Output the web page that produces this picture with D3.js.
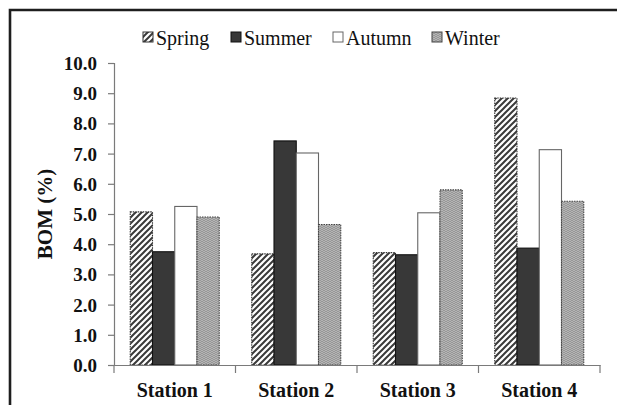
<!DOCTYPE html>
<html>
<head>
<meta charset="utf-8">
<script src="https://cdn.jsdelivr.net/npm/d3@7"></script>
<style>
  html, body { margin: 0; padding: 0; background: #fff; }
  svg { display: block; }
  svg text { font-family: "Liberation Serif", "DejaVu Serif", serif; fill: #111; }
</style>
</head>
<body>
<svg id="chart" width="617" height="405"></svg>
<script>
// Bulk organic matter by station and season
const stations = ["Station 1", "Station 2", "Station 3", "Station 4"];
const seasons = ["Spring", "Summer", "Autumn", "Winter"];
const spring = [5.07, 3.68, 3.72, 8.84];
const summer = [3.75, 7.42, 3.65, 3.87];
const autumn = [5.25, 7.02, 5.04, 7.13];
const winter = [4.9, 4.65, 5.8, 5.42];
const yTicks = [0, 1, 2, 3, 4, 5, 6, 7, 8, 9, 10];

const seriesValues = [spring, summer, autumn, winter];

const svg = d3.select("#chart");
const margin = { left: 114, right: 17, top: 63, bottom: 40 };
const W = 617, H = 405;
const x0 = margin.left, x1 = W - margin.right;
const yBase = H - margin.bottom;

// Fill patterns
const defs = svg.append("defs");
const pSpring = defs.append("pattern").attr("id", "pSpring")
  .attr("patternUnits", "userSpaceOnUse").attr("width", 6).attr("height", 6);
pSpring.append("rect").attr("width", 6).attr("height", 6).attr("fill", "#fff");
pSpring.append("path").attr("d", "M-1,7 L7,-1 M-4,4 L4,-4 M2,10 L10,2")
  .attr("stroke", "#3a3a3a").attr("stroke-width", 2);

const pWinter = defs.append("pattern").attr("id", "pWinter")
  .attr("patternUnits", "userSpaceOnUse").attr("width", 4).attr("height", 4);
pWinter.append("rect").attr("width", 4).attr("height", 4).attr("fill", "#c4c4c4");
pWinter.append("path").attr("d", "M0,0.5 L2,1.5 L4,0.5 M0,2.5 L2,3.5 L4,2.5")
  .attr("stroke", "#808080").attr("stroke-width", 0.9).attr("fill", "none");

const styles = [
  { fill: "url(#pSpring)", stroke: "#333", dash: "1.5,1" },
  { fill: "#383838", stroke: "#111", dash: null },
  { fill: "#ffffff", stroke: "#666", dash: null },
  { fill: "url(#pWinter)", stroke: "#444", dash: "1.5,1" }
];

// Scales
const x = d3.scaleBand().domain(stations).range([x0, x1]).paddingInner(0).paddingOuter(0);
const inner = d3.scaleBand().domain(seasons).range([0, x.bandwidth()]).paddingOuter(0.73).paddingInner(0);
const y = d3.scaleLinear().domain([0, 10]).range([yBase, 63]);

// Outer frame
svg.append("path").attr("d", `M10,${H + 2} L10,10 L${W + 2},10`)
  .attr("fill", "none").attr("stroke", "#1e1e1e").attr("stroke-width", 2.6);

// Bars
seasons.forEach((s, si) => {
  svg.append("g").selectAll("rect")
    .data(stations.map((st, i) => ({ st, v: seriesValues[si][i] })))
    .join("rect")
    .attr("x", d => x(d.st) + inner(s))
    .attr("y", d => y(d.v))
    .attr("width", inner.bandwidth())
    .attr("height", d => yBase - y(d.v))
    .attr("fill", styles[si].fill)
    .attr("stroke", styles[si].stroke)
    .attr("stroke-width", 1.1)
    .attr("stroke-dasharray", styles[si].dash);
});

// Y axis
const yAxis = d3.axisLeft(y).tickValues(yTicks).tickFormat(d3.format(".1f")).tickSizeOuter(0).tickSize(6).tickPadding(11);
const gy = svg.append("g").attr("transform", `translate(${x0},0)`).call(yAxis);
gy.attr("font-family", null).attr("font-size", null);
gy.select(".domain").attr("stroke", "#7a7a7a").attr("stroke-width", 1.2);
gy.selectAll(".tick line").attr("stroke", "#7a7a7a").attr("stroke-width", 1.2);
gy.selectAll(".tick text")
  .style("font-weight", "bold").style("font-size", "19px")
  .attr("fill", null).attr("dy", "0.34em");

// X axis: baseline with ticks at band boundaries
const xAxis = d3.axisBottom(x).tickSize(0).tickPadding(18).tickSizeOuter(0);
const gx = svg.append("g").attr("transform", `translate(0,${yBase})`).call(xAxis);
gx.attr("font-family", null).attr("font-size", null);
gx.select(".domain").attr("stroke", "#7a7a7a").attr("stroke-width", 1.2);
gx.selectAll(".tick text")
  .style("font-weight", "bold").style("font-size", "20px").attr("fill", null);
const bounds = stations.map(s => x(s)).concat([x1]);
gx.selectAll("line.bound").data(bounds).join("line").attr("class", "bound")
  .attr("x1", d => d).attr("x2", d => d).attr("y1", 0).attr("y2", 8)
  .attr("stroke", "#7a7a7a").attr("stroke-width", 1.2);

// Y title
svg.append("text")
  .attr("transform", `translate(52,${(yBase + 63) / 2}) rotate(-90)`)
  .attr("text-anchor", "middle")
  .style("font-weight", "bold").style("font-size", "21px")
  .text("BOM (%)");

// Legend
const legendX = [143, 231, 333, 432];
const lg = svg.append("g");
seasons.forEach((s, i) => {
  lg.append("rect").attr("x", legendX[i]).attr("y", 32).attr("width", 10).attr("height", 10)
    .attr("fill", styles[i].fill).attr("stroke", styles[i].stroke).attr("stroke-width", 1);
  lg.append("text").attr("x", legendX[i] + 13).attr("y", 45)
    .style("font-size", "20px").text(s);
});
</script>
</body>
</html>
